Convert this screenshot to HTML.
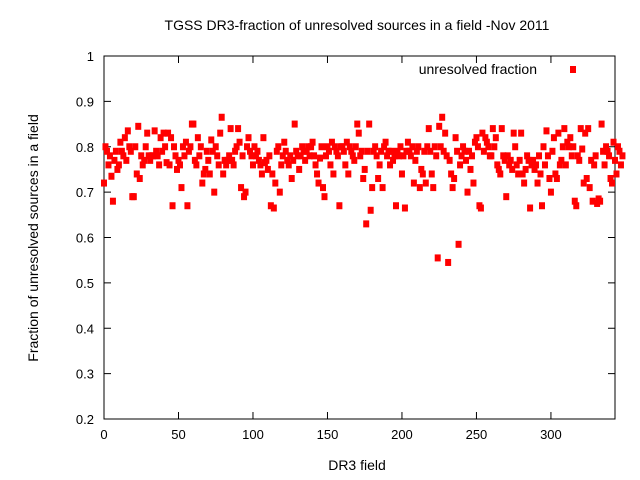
<!DOCTYPE html>
<html><head><meta charset="utf-8"><style>
body{margin:0;background:#fff}
svg{display:block;font-family:"Liberation Sans",sans-serif}
</style></head><body>
<svg id="chart" width="640" height="480" xmlns="http://www.w3.org/2000/svg">
<text x="357" y="30" font-size="14" text-anchor="middle">TGSS DR3-fraction of unresolved sources in a field -Nov 2011</text>
<text x="357" y="470" font-size="14" text-anchor="middle">DR3 field</text>
<text x="38" y="238" font-size="14" text-anchor="middle" transform="rotate(-90 38 238)">Fraction of unresolved sources in a field</text>
<g id="axes"></g>
<g id="points"></g>
<text x="537" y="74" font-size="14" text-anchor="end">unresolved fraction</text>
<rect x="570" y="66" width="6" height="7" fill="#f00"/>
</svg>
<script>
const xTicks=[0,50,100,150,200,250,300];
const yTicks=[0.2,0.3,0.4,0.5,0.6,0.7,0.8,0.9,1];
const yTickLabels=["0.2","0.3","0.4","0.5","0.6","0.7","0.8","0.9","1"];
const fractions=[
0.72,0.80,0.79,0.76,0.78,0.735,0.68,0.77,0.79,0.75,
0.76,0.81,0.79,0.78,0.82,0.77,0.835,0.80,0.79,0.69,
0.69,0.80,0.74,0.845,0.73,0.78,0.76,0.77,0.80,0.83,
0.78,0.77,0.78,0.78,0.835,0.79,0.78,0.76,0.82,0.79,
0.83,0.80,0.765,0.83,0.76,0.82,0.67,0.80,0.78,0.75,
0.77,0.76,0.71,0.80,0.78,0.81,0.67,0.79,0.80,0.85,
0.85,0.77,0.76,0.82,0.78,0.80,0.72,0.74,0.75,0.79,
0.77,0.74,0.815,0.79,0.70,0.80,0.78,0.76,0.83,0.865,
0.74,0.77,0.76,0.77,0.78,0.84,0.77,0.76,0.79,0.80,
0.84,0.81,0.71,0.78,0.69,0.70,0.80,0.82,0.79,0.78,
0.76,0.80,0.78,0.79,0.77,0.76,0.74,0.82,0.765,0.77,
0.75,0.78,0.67,0.74,0.665,0.72,0.79,0.80,0.70,0.76,
0.78,0.81,0.79,0.77,0.76,0.78,0.73,0.77,0.85,0.79,
0.78,0.75,0.78,0.80,0.79,0.77,0.79,0.80,0.78,0.80,
0.81,0.78,0.76,0.74,0.72,0.775,0.80,0.71,0.69,0.78,
0.80,0.79,0.76,0.81,0.74,0.80,0.79,0.78,0.67,0.80,
0.80,0.79,0.76,0.81,0.74,0.80,0.79,0.78,0.77,0.80,
0.85,0.83,0.78,0.79,0.73,0.75,0.63,0.79,0.85,0.66,
0.71,0.79,0.80,0.78,0.73,0.76,0.79,0.71,0.80,0.81,
0.78,0.79,0.76,0.79,0.77,0.78,0.67,0.79,0.78,0.80,
0.74,0.78,0.665,0.79,0.81,0.79,0.78,0.80,0.72,0.77,
0.79,0.80,0.71,0.75,0.74,0.79,0.72,0.80,0.84,0.79,
0.74,0.71,0.80,0.78,0.555,0.845,0.80,0.865,0.79,0.83,
0.78,0.545,0.77,0.74,0.71,0.73,0.82,0.79,0.585,0.76,
0.78,0.80,0.79,0.77,0.70,0.79,0.75,0.78,0.72,0.81,
0.82,0.80,0.67,0.665,0.83,0.79,0.82,0.81,0.80,0.78,
0.78,0.84,0.80,0.82,0.76,0.75,
0.74,0.84,0.78,0.77,0.69,0.78,0.76,0.77,0.75,0.83,
0.80,0.76,0.74,0.77,0.83,0.74,0.72,0.75,0.78,0.77,
0.665,0.76,0.77,0.75,0.76,0.72,0.78,0.74,0.67,0.80,
0.76,0.835,0.78,0.73,0.70,0.79,0.82,0.74,0.73,0.83,
0.76,0.77,0.80,0.84,0.76,0.81,0.80,0.82,0.78,0.80,
0.68,0.67,0.78,0.77,0.84,0.795,0.72,0.83,0.73,0.84,
0.71,0.77,0.68,0.76,0.78,0.675,0.685,0.68,0.85,0.79,
0.76,0.80,0.79,0.78,0.73,0.72,0.81,0.77,0.74,0.80,
0.79,0.76,0.78
];
const L=104,R=615,T=56,B=419,XMAX=343,YMIN=0.2,YMAX=1;
const sx=v=>L+v/XMAX*(R-L), sy=v=>B-(v-YMIN)/(YMAX-YMIN)*(B-T);
const NS="http://www.w3.org/2000/svg";
const axes=document.getElementById('axes'), pts=document.getElementById('points');
function mk(tag,a,parent){const e=document.createElementNS(NS,tag);for(const k in a)e.setAttribute(k,a[k]);parent.appendChild(e);return e;}
const frame=mk('rect',{x:L,y:T,width:R-L,height:B-T,fill:'none',stroke:'#000','stroke-width':1},axes);


xTicks.forEach(t=>{const x=sx(t);
 mk('line',{x1:x,y1:B,x2:x,y2:B-7,stroke:'#000'},axes);
 mk('line',{x1:x,y1:T,x2:x,y2:T+7,stroke:'#000'},axes);
 const tx=mk('text',{x:x,y:B+20,'font-size':13,'text-anchor':'middle'},axes);tx.textContent=t;
 
 });
yTicks.forEach((t,i)=>{const y=sy(t);
 mk('line',{x1:L,y1:y,x2:L+7,y2:y,stroke:'#000'},axes);
 mk('line',{x1:R,y1:y,x2:R-7,y2:y,stroke:'#000'},axes);
 const tx=mk('text',{x:L-10,y:y+5,'font-size':13,'text-anchor':'end'},axes);tx.textContent=yTickLabels[i];
 
 });
fractions.forEach((v,i)=>{const r=mk('rect',{x:sx(i)-3,y:sy(v)-3.5,width:6,height:7,fill:'#f00'},pts);
 
 });
</script>
</body></html>
